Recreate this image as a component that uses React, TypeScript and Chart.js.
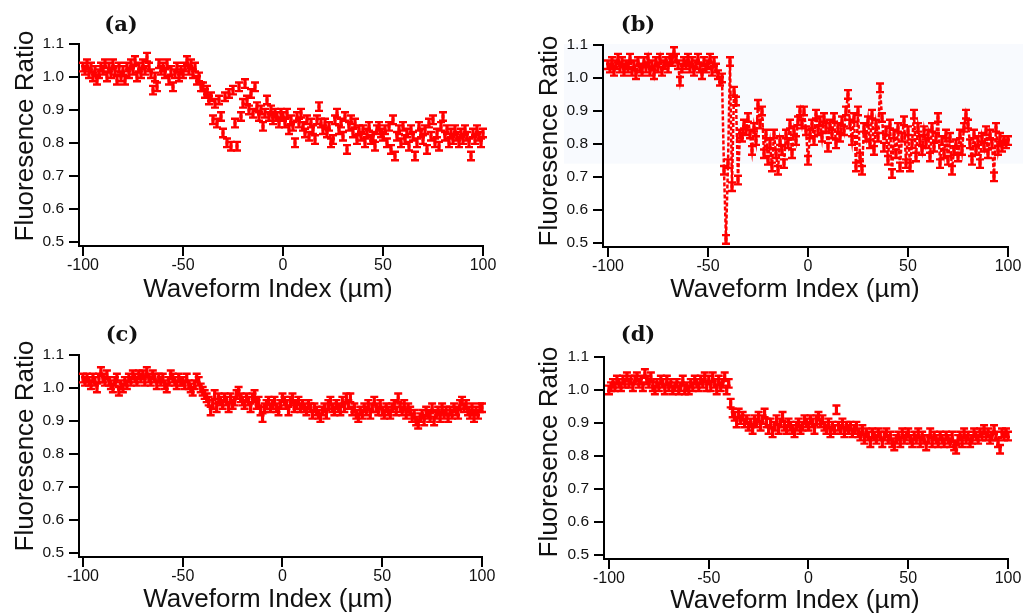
import React, { useEffect, useRef } from "react";
import { Chart, registerables } from "chart.js";

Chart.register(...registerables);

// ---------- data ----------
const X_START = -100; // µm, first waveform index
const X_STEP = 1; // µm between samples
const xTickValues = [-100, -50, 0, 50, 100];
const yTickValues = [0.5, 0.6, 0.7, 0.8, 0.9, 1.0, 1.1];
const xAxisTitle = "Waveform Index (µm)";
const yAxisTitle = "Fluoresence Ratio";
const ratioError = 0.013;

const ratioA = [
  1.03, 1.02, 1.04, 1.01, 1.03, 1.0, 1.02, 0.99, 1.01, 1.03,
  1.02, 1.04, 1.0, 1.03, 1.01, 1.04, 1.02, 0.99, 1.03, 1.0,
  1.02, 0.99, 1.03, 1.01, 1.04, 1.02, 1.05, 1.0, 1.03, 1.01,
  1.04, 1.02, 1.06, 1.03, 1.01, 0.96, 1.0, 0.97, 1.04, 1.02,
  1.03, 1.01, 1.04, 0.99, 1.02, 0.97, 1.01, 1.03, 1.0, 1.02,
  1.01, 1.03, 1.05, 1.02, 1.04, 1.01, 1.03, 0.99, 1.0, 0.97,
  0.97, 0.95, 0.96, 0.93, 0.94, 0.87, 0.92, 0.86, 0.93, 0.88,
  0.83, 0.94, 0.8, 0.95, 0.79, 0.96, 0.86, 0.79, 0.97, 0.88,
  0.92, 0.98, 0.93, 0.9, 0.95, 0.89, 0.97, 0.91, 0.88, 0.9,
  0.85, 0.89, 0.93, 0.88, 0.9, 0.87, 0.89, 0.88, 0.86, 0.89,
  0.88, 0.86, 0.89, 0.84, 0.87, 0.85, 0.8, 0.88, 0.86, 0.89,
  0.85, 0.83, 0.87, 0.82, 0.86, 0.84, 0.81, 0.87, 0.91, 0.86,
  0.84, 0.86, 0.83, 0.85, 0.8, 0.81, 0.87, 0.89, 0.84, 0.86,
  0.82, 0.88, 0.78, 0.85, 0.87, 0.83, 0.86, 0.81, 0.84, 0.82,
  0.84, 0.8, 0.83, 0.85, 0.81, 0.82, 0.79, 0.84, 0.85, 0.83,
  0.82, 0.84, 0.8, 0.85, 0.78, 0.87, 0.76, 0.82, 0.84, 0.8,
  0.85, 0.81, 0.83, 0.79, 0.84, 0.82, 0.76, 0.8, 0.85, 0.83,
  0.81, 0.84, 0.78, 0.86, 0.82, 0.87, 0.8, 0.83, 0.79, 0.85,
  0.88, 0.82, 0.84, 0.8, 0.83, 0.81, 0.84, 0.82, 0.8, 0.83,
  0.81, 0.84, 0.82, 0.8, 0.76, 0.83, 0.81, 0.84, 0.82, 0.8, 0.83,
];

const ratioB = [
  1.04, 1.03, 1.05, 1.02, 1.04, 1.06, 1.03, 1.05, 1.02, 1.04,
  1.03, 1.06, 1.02, 1.04, 1.01, 1.05, 1.03, 1.02, 1.05, 1.03,
  1.06, 1.02, 1.04, 1.01, 1.05, 1.03, 1.06, 1.02, 1.04, 1.05,
  1.03, 1.06, 1.05, 1.08, 1.06, 1.04, 0.99, 1.03, 1.05, 1.04,
  1.06, 1.03, 1.05, 1.02, 1.04, 1.06, 1.03, 1.01, 1.05, 1.03,
  1.04, 1.06, 1.02, 1.05, 1.03, 1.01, 0.99, 1.0, 0.72, 0.51,
  0.74, 1.05, 0.67, 0.96, 0.93, 0.69, 0.83, 0.82, 0.86, 0.84,
  0.88, 0.83, 0.78, 0.85, 0.81, 0.92, 0.86, 0.9, 0.77, 0.83,
  0.75, 0.8, 0.73, 0.83, 0.77, 0.72, 0.81, 0.78, 0.74, 0.83,
  0.8, 0.86, 0.77, 0.84, 0.81, 0.87, 0.9, 0.86, 0.9, 0.84,
  0.75, 0.83, 0.86, 0.81, 0.89, 0.84, 0.87, 0.82, 0.88, 0.85,
  0.79, 0.86, 0.83, 0.88, 0.8, 0.85, 0.82, 0.87, 0.84, 0.9,
  0.95, 0.86, 0.81, 0.88, 0.73, 0.9, 0.76, 0.72, 0.85, 0.82,
  0.87, 0.8, 0.89, 0.78, 0.86, 0.82, 0.97, 0.88, 0.79, 0.84,
  0.75, 0.86, 0.71, 0.83, 0.77, 0.85, 0.73, 0.82, 0.87, 0.74,
  0.84, 0.73, 0.8, 0.89, 0.76, 0.85, 0.81, 0.78, 0.84, 0.8,
  0.83, 0.76, 0.85, 0.79, 0.82, 0.88, 0.74, 0.81, 0.77, 0.83,
  0.75, 0.82, 0.72, 0.78, 0.8, 0.76, 0.83, 0.78, 0.85, 0.89,
  0.86, 0.8, 0.75, 0.83, 0.78, 0.81, 0.74, 0.82, 0.79, 0.84,
  0.77, 0.83, 0.8, 0.7, 0.85, 0.78, 0.82, 0.79, 0.81, 0.8, 0.81,
];

const ratioC = [
  1.03, 1.02, 1.03, 1.02, 1.01, 1.03, 1.02, 1.0, 1.03, 1.05,
  1.03, 1.02, 1.04, 1.02, 1.01, 1.0, 1.02, 1.03, 0.99, 1.01,
  1.0, 1.02, 1.01, 1.03, 1.02, 1.04, 1.03, 1.02, 1.04, 1.03,
  1.04, 1.02, 1.05, 1.03, 1.02, 1.04, 1.03, 1.01, 1.03, 1.02,
  1.03, 1.01, 1.0, 1.02, 1.04, 1.03, 1.02, 1.01, 1.03, 1.02,
  1.02, 1.01, 1.03, 1.01, 1.0, 0.99, 1.01, 1.03, 1.02, 1.0,
  0.99, 0.98, 0.97, 0.96, 0.93, 0.95, 0.98, 0.94, 0.97, 0.96,
  0.95, 0.97, 0.96, 0.94, 0.97, 0.95, 0.96, 0.98, 0.99, 0.97,
  0.96, 0.95, 0.97, 0.96, 0.94, 0.97, 0.98, 0.95, 0.96, 0.93,
  0.91, 0.94, 0.95, 0.96, 0.94, 0.95, 0.96, 0.94, 0.93, 0.95,
  0.97, 0.96, 0.95, 0.93, 0.96, 0.97, 0.94, 0.95, 0.96, 0.94,
  0.95, 0.94, 0.93, 0.95, 0.94, 0.92, 0.94, 0.93, 0.92, 0.91,
  0.93, 0.94, 0.92, 0.95, 0.96, 0.94, 0.93, 0.95, 0.94, 0.93,
  0.96, 0.94, 0.97, 0.95, 0.97, 0.93, 0.94, 0.92, 0.91, 0.93,
  0.92, 0.94, 0.93, 0.95, 0.92, 0.94, 0.96, 0.94, 0.93, 0.95,
  0.93, 0.92, 0.94, 0.93, 0.92, 0.94, 0.95, 0.93, 0.97, 0.94,
  0.93, 0.95, 0.92, 0.94, 0.93, 0.91, 0.92, 0.9, 0.89, 0.91,
  0.92, 0.9, 0.93, 0.92, 0.91, 0.94, 0.9, 0.92, 0.93, 0.91,
  0.94, 0.92, 0.93, 0.91, 0.93, 0.92, 0.94, 0.93, 0.92, 0.95,
  0.96, 0.94, 0.95, 0.93, 0.92, 0.94, 0.91, 0.93, 0.92, 0.94, 0.94,
];

const ratioD = [
  1.0, 1.01, 1.02, 1.01, 1.03, 1.02, 1.01, 1.03, 1.02, 1.04,
  1.02, 1.03, 1.01, 1.03, 1.04, 1.02, 1.03, 1.01, 1.05, 1.03,
  1.02, 1.04, 1.01, 1.0, 1.02, 1.01, 1.03, 1.02, 1.0, 1.03,
  1.01, 1.02, 1.0, 1.01, 1.02, 1.0, 1.01, 1.03, 1.0, 1.01,
  1.0, 1.02, 1.01, 1.03, 1.02, 1.01, 1.03, 1.02, 1.04, 1.01,
  1.03, 1.01, 1.04, 1.02, 1.0, 1.03, 1.01, 1.02, 1.04, 1.0,
  1.02, 0.96, 0.93, 0.92, 0.9, 0.93, 0.91, 0.92, 0.9, 0.91,
  0.89, 0.9, 0.88, 0.91, 0.9, 0.92, 0.89, 0.91, 0.93, 0.9,
  0.88, 0.9, 0.87, 0.89, 0.91, 0.88, 0.9, 0.92, 0.89, 0.88,
  0.9, 0.89, 0.88, 0.87, 0.89, 0.9, 0.88, 0.89, 0.91, 0.9,
  0.89, 0.91, 0.9, 0.88, 0.91, 0.92, 0.9, 0.91, 0.89, 0.88,
  0.9, 0.87, 0.89, 0.88, 0.94, 0.89, 0.88, 0.9, 0.87, 0.89,
  0.88, 0.89, 0.87, 0.88, 0.89, 0.87, 0.86, 0.88, 0.85, 0.87,
  0.86, 0.84, 0.87, 0.86, 0.85, 0.87, 0.86, 0.84, 0.86, 0.87,
  0.85, 0.86, 0.84, 0.83, 0.85, 0.86, 0.84, 0.87, 0.85, 0.86,
  0.87, 0.85, 0.84, 0.86, 0.85, 0.87, 0.84, 0.86, 0.85, 0.83,
  0.85, 0.87, 0.84, 0.86, 0.85, 0.84, 0.86, 0.85, 0.84, 0.86,
  0.85, 0.84, 0.86, 0.83, 0.82, 0.85, 0.86, 0.84, 0.87, 0.85,
  0.86, 0.84, 0.85, 0.87, 0.86, 0.85, 0.87, 0.86, 0.88, 0.86,
  0.87, 0.85, 0.86, 0.88, 0.86, 0.84, 0.82, 0.87, 0.86, 0.87, 0.86,
];

// ---------- layout / style ----------
const RED = "#ff0000";
const INK = "#111111";
const SANS = "'Liberation Sans', Arial, Helvetica, sans-serif";
const PANEL_W = 516;
const PANEL_H = 307;
const Y_AXIS_W = 60;
const X_AXIS_H = 50;

type Panel = {
  label: string;
  values: number[];
  dashed: boolean;
  shaded: boolean;
  left: number;
  top: number;
  right: number;
  bottom: number;
  xMin: number;
  posX: number;
  posY: number;
  labelAt: [number, number];
  xTitleAt: [number, number];
  yTitleAt: [number, number];
};

const panels: Panel[] = [
  { label: "(a)", values: ratioA, dashed: false, shaded: false, left: 79, top: 44, right: 483, bottom: 246, xMin: -102, posX: 0, posY: 0, labelAt: [121, 31], xTitleAt: [268, 297], yTitleAt: [33, 136] },
  { label: "(b)", values: ratioB, dashed: true, shaded: true, left: 87, top: 45, right: 492, bottom: 247, xMin: -102.5, posX: 516, posY: 0, labelAt: [122, 31], xTitleAt: [279, 297], yTitleAt: [41, 141] },
  { label: "(c)", values: ratioC, dashed: false, shaded: false, left: 79, top: 48, right: 482, bottom: 250, xMin: -102, posX: 0, posY: 307, labelAt: [122, 34], xTitleAt: [268, 300], yTitleAt: [33, 139] },
  { label: "(d)", values: ratioD, dashed: false, shaded: false, left: 88, top: 50, right: 492, bottom: 252, xMin: -102.5, posX: 516, posY: 307, labelAt: [122, 34], xTitleAt: [279, 301], yTitleAt: [41, 145] },
];

const Y_MIN = 0.487;
const Y_MAX = 1.1;

function makePlugins(p: Panel) {
  const shade = {
    id: "shade",
    beforeDraw(chart: any) {
      if (!p.shaded) return;
      const { ctx, chartArea, scales } = chart;
      const y = scales.y;
      const top = y.getPixelForValue(1.1) - 1;
      const bottom = y.getPixelForValue(0.74);
      ctx.save();
      ctx.fillStyle = "#f8fafe";
      ctx.fillRect(chartArea.left - 39, top, chartArea.right - chartArea.left + 54, bottom - top);
      ctx.restore();
    },
  };
  const errorBars = {
    id: "errorBars",
    afterDatasetsDraw(chart: any) {
      const { ctx, scales } = chart;
      const xs = scales.x;
      const ys = scales.y;
      ctx.save();
      ctx.strokeStyle = RED;
      p.values.forEach((v, i) => {
        const px = xs.getPixelForValue(X_START + i * X_STEP);
        const pTop = ys.getPixelForValue(v + ratioError);
        const pBot = ys.getPixelForValue(v - ratioError);
        ctx.lineWidth = 3.2;
        ctx.beginPath();
        ctx.moveTo(px, pTop);
        ctx.lineTo(px, pBot);
        ctx.stroke();
        ctx.lineWidth = 2.4;
        ctx.beginPath();
        ctx.moveTo(px - 4, pTop);
        ctx.lineTo(px + 4, pTop);
        ctx.moveTo(px - 4, pBot);
        ctx.lineTo(px + 4, pBot);
        ctx.stroke();
      });
      ctx.restore();
    },
  };
  const texts = {
    id: "texts",
    afterDraw(chart: any) {
      const { ctx } = chart;
      ctx.save();
      ctx.fillStyle = INK;
      ctx.font = `bold 21px 'DejaVu Serif', 'Liberation Serif', serif`;
      ctx.textAlign = "center";
      ctx.textBaseline = "alphabetic";
      ctx.fillText(p.label, p.labelAt[0], p.labelAt[1]);
      ctx.font = `26px ${SANS}`;
      ctx.fillText(xAxisTitle, p.xTitleAt[0], p.xTitleAt[1]);
      ctx.translate(p.yTitleAt[0], p.yTitleAt[1]);
      ctx.rotate(-Math.PI / 2);
      ctx.fillText(yAxisTitle, 0, 0);
      ctx.restore();
    },
  };
  return [shade, errorBars, texts];
}

function PanelChart({ p }: { p: Panel }) {
  const ref = useRef<HTMLCanvasElement | null>(null);
  useEffect(() => {
    if (!ref.current) return;
    const points = p.values.map((v, i) => ({ x: X_START + i * X_STEP, y: v }));
    const axisCommon = {
      type: "linear" as const,
      grid: {
        display: true,
        drawOnChartArea: false,
        drawTicks: true,
        tickLength: 10,
        color: "#000",
        lineWidth: 2,
      },
      border: { display: true, color: "#000", width: 2 },
    };
    const chart = new Chart(ref.current, {
      type: "line",
      data: {
        datasets: [
          {
            data: points,
            showLine: p.dashed,
            borderColor: RED,
            borderWidth: 2.5,
            borderDash: [4, 2],
            backgroundColor: RED,
            pointStyle: "rect",
            pointRadius: 2,
            pointBorderWidth: 0,
            pointBackgroundColor: RED,
            clip: false as any,
          } as any,
        ],
      },
      options: {
        responsive: false,
        animation: false,
        events: [],
        layout: {
          padding: {
            left: p.left - Y_AXIS_W,
            top: p.top,
            right: PANEL_W - p.right,
            bottom: PANEL_H - p.bottom - X_AXIS_H,
          },
        },
        plugins: { legend: { display: false }, tooltip: { enabled: false }, title: { display: false } },
        scales: {
          x: {
            ...axisCommon,
            position: "bottom",
            min: p.xMin,
            max: 100,
            afterBuildTicks: (s: any) => {
              s.ticks = xTickValues.map((v) => ({ value: v }));
            },
            afterFit: (s: any) => {
              s.height = X_AXIS_H;
            },
            ticks: {
              color: INK,
              font: { family: SANS, size: 16 },
              padding: 0,
              maxRotation: 0,
              autoSkip: false,
              callback: (v: any) => String(v),
            },
          },
          y: {
            ...axisCommon,
            position: "left",
            min: Y_MIN,
            max: Y_MAX,
            afterBuildTicks: (s: any) => {
              s.ticks = yTickValues.map((v) => ({ value: v }));
            },
            afterFit: (s: any) => {
              s.width = Y_AXIS_W;
            },
            ticks: {
              color: INK,
              font: { family: SANS, size: 15.5 },
              padding: 5,
              autoSkip: false,
              callback: (v: any) => Number(v).toFixed(1),
            },
          },
        },
      } as any,
      plugins: makePlugins(p) as any,
    });
    return () => chart.destroy();
  }, [p]);
  return (
    <canvas
      ref={ref}
      width={PANEL_W}
      height={PANEL_H}
      style={{ position: "absolute", left: p.posX, top: p.posY, width: PANEL_W, height: PANEL_H, display: "block" }}
    />
  );
}

export default function App() {
  return (
    <div style={{ position: "absolute", left: 0, top: 0, width: 1032, height: 614, background: "#fff", overflow: "hidden" }}>
      {panels.map((p) => (
        <PanelChart key={p.label} p={p} />
      ))}
    </div>
  );
}
